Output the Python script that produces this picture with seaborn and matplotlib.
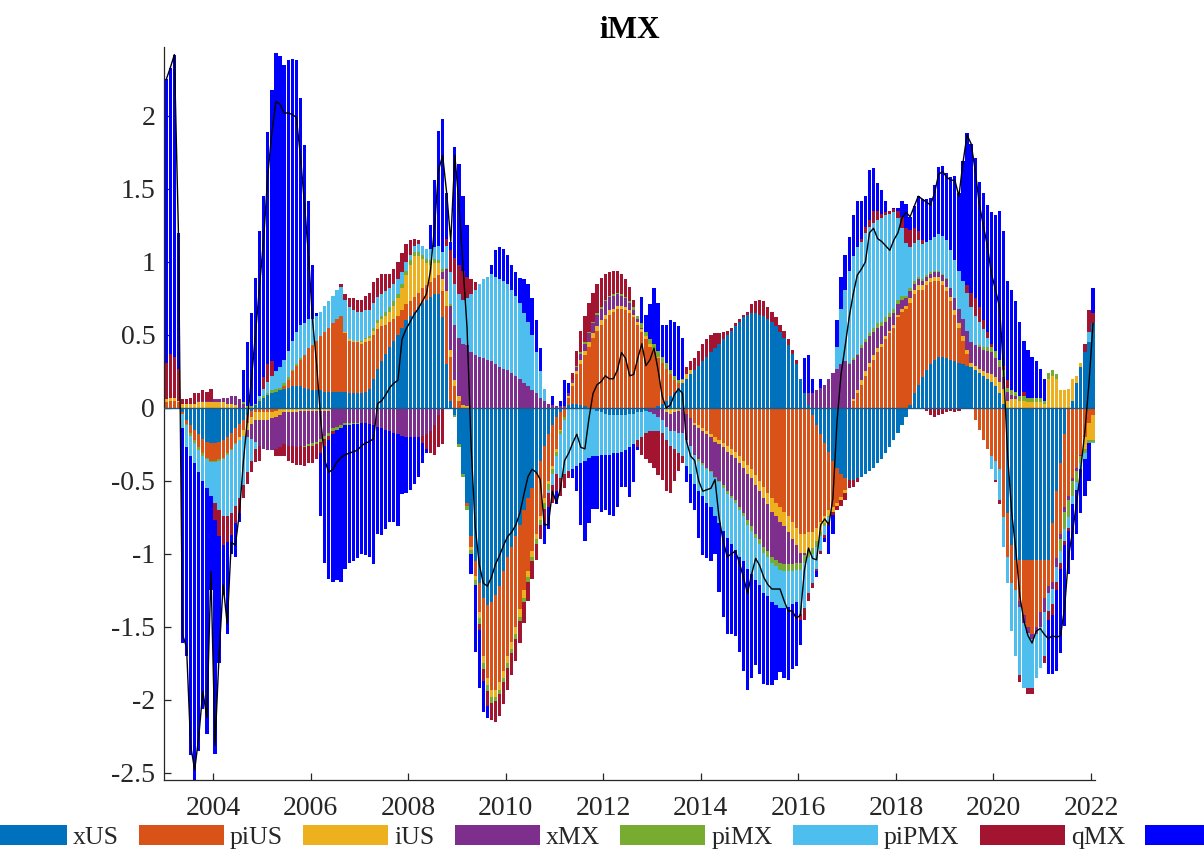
import numpy as np
import matplotlib
matplotlib.use("Agg")
import matplotlib.pyplot as plt
import seaborn as sns

# Monthly contributions to iMX, Jan 2003 - Jan 2022 (one row per year)
xUS = [
    0.00, 0.00, 0.00, 0.00, -0.03, -0.08, -0.12, -0.15, -0.18, -0.21, -0.23, -0.24,
    -0.24, -0.23, -0.22, -0.20, -0.17, -0.14, -0.11, -0.08, -0.05, -0.02, 0.02, 0.05,
    0.07, 0.09, 0.10, 0.11, 0.12, 0.13, 0.14, 0.15, 0.15, 0.15, 0.14, 0.13,
    0.12, 0.12, 0.12, 0.11, 0.11, 0.11, 0.11, 0.11, 0.11, 0.10, 0.10, 0.10,
    0.10, 0.11, 0.13, 0.20, 0.27, 0.32, 0.37, 0.42, 0.46, 0.50, 0.55, 0.60,
    0.63, 0.66, 0.69, 0.72, 0.74, 0.76, 0.78, 0.78, 0.62, 0.30, 0.05, -0.05,
    -0.25, -0.45, -0.65, -0.88, -1.05, -1.20, -1.30, -1.35, -1.33, -1.28, -1.22, -1.12,
    -1.02, -0.95, -0.88, -0.80, -0.70, -0.62, -0.55, -0.45, -0.36, -0.26, -0.18, -0.12,
    -0.06, -0.03, 0.00, 0.02, 0.03, 0.03, 0.02, 0.01, 0.00, 0.00, -0.02, -0.03,
    -0.04, -0.05, -0.05, -0.05, -0.05, -0.05, -0.04, -0.04, -0.03, -0.03, -0.02, -0.01,
    0.00, 0.01, 0.03, 0.05, 0.08, 0.11, 0.14, 0.17, 0.20, 0.23, 0.26, 0.29,
    0.32, 0.35, 0.38, 0.41, 0.44, 0.47, 0.50, 0.53, 0.56, 0.59, 0.62, 0.64,
    0.65, 0.65, 0.64, 0.63, 0.61, 0.59, 0.56, 0.52, 0.48, 0.43, 0.37, 0.30,
    0.20, 0.10, 0.02, -0.05, -0.12, -0.18, -0.24, -0.30, -0.36, -0.41, -0.45, -0.48,
    -0.49, -0.49, -0.48, -0.47, -0.45, -0.43, -0.41, -0.38, -0.35, -0.31, -0.27, -0.22,
    -0.17, -0.12, -0.06, 0.02, 0.10, 0.16, 0.21, 0.26, 0.30, 0.33, 0.35, 0.35,
    0.34, 0.33, 0.32, 0.31, 0.30, 0.29, 0.28, 0.26, 0.24, 0.22, 0.20, 0.18,
    0.15, 0.10, 0.03, -0.72, -0.94, -1.04, -1.04, -1.04, -1.04, -1.04, -1.04, -1.04,
    -1.04, -1.04, -0.79, -0.57, -0.38, -0.18, 0.00, 0.05, 0.17, 0.28, 0.38, 0.45,
    0.58,
]

piUS = [
    0.04, 0.05, 0.05, 0.04, -0.01, -0.03, -0.05, -0.07, -0.09, -0.10, -0.11, -0.12,
    -0.12, -0.12, -0.12, -0.11, -0.11, -0.10, -0.09, -0.07, -0.05, -0.04, -0.03, -0.03,
    -0.03, -0.03, -0.03, -0.02, -0.01, 0.02, 0.05, 0.10, 0.14, 0.18, 0.22, 0.28,
    0.31, 0.34, 0.37, 0.41, 0.44, 0.47, 0.50, 0.52, 0.40, 0.36, 0.35, 0.35,
    0.34, 0.34, 0.33, 0.30, 0.27, 0.24, 0.20, 0.17, 0.15, 0.13, 0.12, 0.11,
    0.10, 0.10, 0.10, 0.10, 0.10, 0.10, 0.11, 0.13, 0.18, 0.40, 0.30, 0.15,
    0.05, 0.00, -0.02, -0.07, -0.10, -0.20, -0.40, -0.50, -0.60, -0.65, -0.66, -0.68,
    -0.68, -0.65, -0.62, -0.58, -0.55, -0.50, -0.43, -0.41, -0.38, -0.36, -0.32, -0.28,
    -0.22, -0.12, -0.06, 0.05, 0.12, 0.20, 0.28, 0.35, 0.42, 0.48, 0.53, 0.57,
    0.61, 0.64, 0.66, 0.68, 0.68, 0.67, 0.65, 0.62, 0.57, 0.52, 0.47, 0.42,
    0.38, 0.33, 0.28, 0.22, 0.15, 0.08, 0.03, 0.00, -0.04, -0.07, -0.10, -0.12,
    -0.14, -0.16, -0.18, -0.20, -0.22, -0.24, -0.26, -0.28, -0.30, -0.33, -0.36, -0.39,
    -0.42, -0.46, -0.50, -0.54, -0.58, -0.62, -0.65, -0.68, -0.71, -0.74, -0.78, -0.82,
    -0.86, -0.86, -0.85, -0.80, -0.70, -0.60, -0.50, -0.40, -0.32, -0.24, -0.16, -0.08,
    0.00, 0.05, 0.10, 0.16, 0.22, 0.28, 0.33, 0.38, 0.42, 0.47, 0.51, 0.55,
    0.62, 0.66, 0.68, 0.70, 0.68, 0.65, 0.60, 0.58, 0.56, 0.54, 0.52, 0.49,
    0.46, 0.40, 0.32, 0.24, 0.16, 0.08, 0.00, -0.08, -0.15, -0.22, -0.28, -0.33,
    -0.36, -0.42, -0.75, -0.30, -0.26, -0.21, -0.28, -0.38, -0.46, -0.51, -0.46, -0.36,
    -0.26, -0.18, -0.40, -0.46, -0.48, -0.50, -0.60, -0.48, -0.41, -0.32, -0.20, -0.10,
    -0.05,
]

iUS = [
    0.02, 0.02, 0.02, 0.01, 0.03, 0.03, 0.03, 0.03, 0.04, 0.04, 0.04, 0.04,
    0.04, 0.04, 0.04, 0.03, 0.03, 0.02, -0.02, -0.04, -0.05, -0.05, -0.05, -0.05,
    -0.05, -0.05, -0.04, -0.04, -0.04, -0.03, -0.03, -0.03, -0.03, -0.02, -0.02, -0.02,
    -0.02, -0.02, -0.02, -0.02, -0.02, -0.01, -0.01, -0.01, 0.01, 0.01, 0.01, 0.01,
    0.01, 0.02, 0.02, 0.03, 0.04, 0.05, 0.06, 0.07, 0.09, 0.12, 0.15, 0.20,
    0.25, 0.28, 0.25, 0.20, 0.15, 0.12, 0.10, 0.08, 0.08, 0.10, 0.05, 0.04,
    0.03, 0.02, 0.01, -0.02, -0.03, -0.04, -0.05, -0.05, -0.05, -0.05, -0.05, -0.05,
    -0.05, -0.05, -0.05, -0.05, -0.05, -0.04, -0.04, -0.04, -0.03, -0.03, -0.02, -0.02,
    -0.02, -0.01, 0.00, 0.01, 0.02, 0.02, 0.03, 0.03, 0.03, 0.03, 0.03, 0.03,
    0.03, 0.03, 0.02, 0.02, 0.02, 0.02, 0.02, 0.02, 0.02, 0.02, 0.02, 0.02,
    0.02, 0.01, 0.00, -0.03, -0.04, -0.03, -0.02, 0.02, 0.03, 0.03, -0.02, -0.02,
    -0.02, -0.02, -0.02, -0.03, -0.03, -0.03, -0.04, -0.04, -0.04, -0.05, -0.05, -0.06,
    -0.06, -0.07, -0.07, -0.08, -0.08, -0.09, -0.09, -0.10, -0.10, -0.11, -0.12, -0.12,
    -0.13, -0.13, -0.12, -0.11, -0.09, -0.07, -0.05, -0.04, -0.03, -0.02, -0.02, -0.02,
    0.00, 0.01, 0.02, 0.03, 0.03, 0.03, 0.03, 0.03, 0.02, 0.02, 0.02, 0.02,
    0.02, 0.02, 0.02, 0.03, 0.03, 0.03, 0.03, 0.03, 0.03, 0.03, 0.03, 0.03,
    0.03, 0.03, 0.03, 0.03, 0.03, 0.03, 0.03, 0.03, 0.03, 0.03, 0.04, 0.05,
    0.06, 0.08, 0.10, 0.05, 0.06, 0.06, 0.05, 0.05, 0.04, 0.04, 0.04, 0.04,
    0.03, 0.20, 0.22, 0.20, 0.12, 0.12, 0.13, 0.15, 0.05, 0.03, -0.08, -0.12,
    -0.17,
]

xMX = [
    0.00, 0.00, 0.00, 0.00, 0.00, 0.00, 0.00, 0.00, 0.01, 0.01, 0.01, 0.01,
    0.02, 0.02, 0.03, 0.04, 0.05, 0.06, 0.06, 0.03, -0.05, -0.10, -0.15, -0.18,
    -0.20, -0.21, -0.22, -0.22, -0.22, -0.22, -0.23, -0.23, -0.24, -0.24, -0.24, -0.23,
    -0.22, -0.21, -0.19, -0.17, -0.15, -0.13, -0.12, -0.11, -0.10, -0.10, -0.10, -0.10,
    -0.10, -0.10, -0.11, -0.12, -0.13, -0.14, -0.15, -0.16, -0.17, -0.18, -0.19, -0.20,
    -0.20, -0.20, -0.20, -0.19, -0.18, -0.16, -0.12, -0.05, 0.05, 0.15, 0.30, 0.38,
    0.40, 0.42, 0.42, 0.38, 0.36, 0.35, 0.34, 0.33, 0.32, 0.30, 0.28, 0.27,
    0.26, 0.24, 0.22, 0.20, 0.17, 0.15, 0.12, 0.10, 0.07, 0.05, 0.03, 0.02,
    0.01, 0.01, 0.01, 0.02, 0.02, 0.03, 0.04, 0.05, 0.06, 0.07, 0.08, 0.08,
    0.09, 0.09, 0.09, 0.08, 0.07, 0.06, 0.05, 0.03, 0.02, 0.01, 0.00, -0.02,
    -0.04, -0.06, -0.08, -0.10, -0.12, -0.13, -0.15, -0.17, -0.18, -0.19, -0.20, -0.21,
    -0.22, -0.23, -0.23, -0.24, -0.25, -0.26, -0.27, -0.28, -0.29, -0.30, -0.31, -0.32,
    -0.33, -0.33, -0.33, -0.33, -0.32, -0.31, -0.30, -0.28, -0.26, -0.22, -0.17, -0.12,
    -0.07, -0.02, 0.08, 0.10, 0.12, 0.14, 0.16, 0.20, 0.24, 0.27, 0.30, 0.32,
    0.30, 0.27, 0.24, 0.22, 0.20, 0.18, 0.16, 0.14, 0.12, 0.10, 0.09, 0.08,
    0.07, 0.06, 0.05, 0.05, 0.04, 0.04, 0.03, 0.03, 0.03, 0.03, 0.03, 0.04,
    0.05, 0.06, 0.08, 0.10, 0.12, 0.13, 0.14, 0.14, 0.15, 0.15, 0.15, 0.15,
    0.13, 0.10, 0.08, 0.06, 0.03, 0.02, -0.04, -0.05, -0.04, -0.03, -0.05, -0.10,
    -0.10, -0.05, -0.05, -0.06, -0.04, -0.03, -0.03, -0.02, -0.02, -0.01, 0.00, 0.00,
    0.00,
]

piMX = [
    0.00, 0.00, 0.00, 0.00, 0.00, -0.01, -0.02, -0.02, -0.02, -0.02, -0.01, -0.01,
    -0.01, -0.01, -0.01, -0.01, -0.01, -0.01, 0.00, 0.01, 0.01, 0.01, 0.01, 0.01,
    0.01, 0.01, 0.02, 0.02, 0.02, 0.02, 0.02, 0.01, 0.01, 0.01, -0.01, -0.01,
    -0.02, -0.02, -0.02, -0.02, -0.02, -0.02, -0.02, -0.02, -0.02, -0.02, -0.01, -0.01,
    0.01, 0.01, 0.01, 0.02, 0.02, 0.02, 0.03, 0.03, 0.03, 0.03, 0.03, 0.03,
    0.03, 0.03, 0.03, 0.03, 0.03, 0.03, 0.03, 0.02, 0.02, 0.01, 0.01, -0.01,
    -0.02, -0.02, -0.03, -0.03, -0.03, -0.04, -0.04, -0.04, -0.04, -0.03, -0.03, -0.03,
    -0.03, -0.03, -0.03, -0.03, -0.03, -0.03, -0.03, -0.03, -0.03, -0.04, -0.04, -0.03,
    -0.03, -0.02, -0.02, -0.01, 0.00, 0.01, 0.01, 0.01, 0.01, 0.01, 0.01, 0.01,
    0.01, 0.01, 0.01, 0.01, 0.01, 0.01, 0.01, 0.02, 0.02, 0.03, 0.03, 0.03,
    0.04, 0.04, 0.04, 0.04, 0.03, 0.03, 0.02, 0.01, 0.00, 0.00, 0.00, -0.01,
    -0.01, -0.01, -0.01, -0.01, -0.01, -0.02, -0.02, -0.02, -0.02, -0.02, -0.02, -0.03,
    -0.03, -0.03, -0.03, -0.04, -0.04, -0.04, -0.04, -0.05, -0.05, -0.05, -0.05, -0.05,
    -0.05, -0.05, -0.05, -0.04, -0.04, -0.03, -0.02, -0.01, 0.00, 0.00, 0.00, 0.00,
    0.01, 0.01, 0.01, 0.02, 0.02, 0.02, 0.03, 0.03, 0.03, 0.03, 0.03, 0.03,
    0.03, 0.03, 0.02, 0.02, 0.02, 0.02, 0.01, 0.01, 0.01, 0.01, 0.01, 0.01,
    0.01, 0.00, -0.01, -0.01, -0.01, -0.01, 0.00, 0.00, 0.01, 0.02, 0.03, 0.04,
    0.05, 0.05, 0.05, 0.03, 0.03, 0.03, 0.03, 0.03, 0.03, 0.03, 0.03, 0.03,
    0.02, 0.04, 0.04, 0.03, -0.08, -0.12, -0.12, -0.10, -0.08, -0.05, -0.03, -0.02,
    -0.01,
]

piPMX = [
    0.00, 0.00, 0.00, 0.00, -0.10, -0.15, -0.14, -0.14, -0.15, -0.17, -0.20, -0.23,
    -0.28, -0.34, -0.39, -0.42, -0.43, -0.42, -0.40, -0.34, -0.24, -0.15, -0.05, 0.02,
    0.05, 0.08, 0.10, 0.12, 0.14, 0.16, 0.18, 0.20, 0.22, 0.23, 0.22, 0.20,
    0.18, 0.17, 0.17, 0.18, 0.18, 0.19, 0.20, 0.20, 0.22, 0.22, 0.21, 0.20,
    0.20, 0.19, 0.18, 0.17, 0.16, 0.15, 0.14, 0.13, 0.12, 0.10, 0.08, 0.06,
    0.04, 0.04, 0.05, 0.06, 0.07, 0.08, 0.08, 0.10, 0.12, 0.15, 0.22, 0.28,
    0.30, 0.30, 0.32, 0.40, 0.45, 0.50, 0.54, 0.57, 0.60, 0.60, 0.60, 0.60,
    0.59, 0.57, 0.55, 0.52, 0.48, 0.44, 0.38, 0.28, 0.18, 0.08, -0.02, -0.08,
    -0.12, -0.30, -0.37, -0.42, -0.42, -0.40, -0.38, -0.36, -0.34, -0.33, -0.31, -0.29,
    -0.28, -0.27, -0.26, -0.26, -0.25, -0.24, -0.23, -0.21, -0.19, -0.17, -0.15, -0.13,
    -0.12, -0.10, -0.09, -0.09, -0.10, -0.12, -0.14, -0.16, -0.18, -0.19, -0.20, -0.21,
    -0.21, -0.23, -0.24, -0.26, -0.28, -0.29, -0.30, -0.31, -0.32, -0.32, -0.31, -0.30,
    -0.30, -0.29, -0.28, -0.28, -0.27, -0.27, -0.27, -0.26, -0.25, -0.24, -0.22, -0.22,
    -0.30, -0.31, -0.25, -0.20, -0.15, -0.10, -0.06, -0.03, 0.00, 0.15, 0.38, 0.49,
    0.63, 0.70, 0.73, 0.71, 0.73, 0.73, 0.72, 0.71, 0.71, 0.70, 0.68, 0.66,
    0.56, 0.46, 0.36, 0.28, 0.26, 0.25, 0.24, 0.23, 0.22, 0.23, 0.25, 0.26,
    0.26, 0.26, 0.26, 0.26, 0.26, 0.26, 0.24, 0.20, 0.16, 0.12, 0.06, -0.09,
    -0.13, -0.21, -0.20, -0.18, -0.33, -0.45, -0.47, -0.45, -0.38, -0.34, -0.30, -0.28,
    -0.30, -0.12, -0.10, -0.10, -0.08, -0.08, -0.07, -0.06, -0.05, -0.04, -0.04, 0.07,
    -0.01,
]

qMX = [
    0.25, 0.30, 0.28, 0.22, 0.03, 0.03, 0.04, 0.07, 0.05, 0.07, 0.06, 0.08,
    -0.12, -0.18, -0.20, -0.18, -0.15, -0.12, -0.10, -0.09, -0.08, -0.08, -0.09, -0.10,
    0.08, 0.12, 0.10, -0.05, -0.06, -0.08, -0.10, -0.12, -0.12, -0.13, -0.13, -0.12,
    -0.12, -0.10, -0.08, -0.05, -0.03, -0.02, 0.00, 0.02, 0.04, 0.06, 0.08, 0.08,
    0.08, 0.10, 0.12, 0.14, 0.13, 0.14, 0.12, 0.10, 0.10, 0.12, 0.13, 0.12,
    0.10, 0.05, 0.03, -0.05, -0.10, -0.15, -0.20, -0.22, -0.25, 0.05, 0.15, 0.18,
    0.20, 0.20, 0.15, 0.10, 0.05, -0.04, -0.08, -0.10, -0.12, -0.14, -0.15, -0.15,
    -0.15, -0.15, -0.15, -0.15, -0.14, -0.13, -0.12, -0.11, -0.10, -0.10, -0.10, -0.12,
    -0.12, -0.12, -0.10, -0.05, 0.05, 0.10, 0.15, 0.18, 0.20, 0.20, 0.20, 0.20,
    0.18, 0.16, 0.16, 0.15, 0.14, 0.12, 0.10, 0.05, -0.05, -0.12, -0.18, -0.22,
    -0.25, -0.30, -0.32, -0.35, -0.32, -0.22, -0.12, -0.05, 0.05, 0.06, 0.08, 0.10,
    0.12, 0.12, 0.12, 0.10, 0.07, 0.05, 0.03, 0.02, 0.02, 0.02, 0.02, 0.02,
    0.06, 0.08, 0.10, 0.10, 0.08, 0.07, 0.06, 0.05, 0.05, 0.04, 0.03, 0.03,
    -0.04, -0.08, -0.05, -0.03, -0.02, -0.02, -0.02, -0.02, -0.02, -0.03, -0.04, -0.05,
    -0.06, -0.05, -0.03, 0.02, 0.04, 0.05, 0.08, 0.06, 0.03, 0.02, 0.02, 0.02,
    0.05, 0.08, 0.10, 0.12, 0.10, 0.06, 0.03, -0.02, -0.05, -0.06, -0.05, -0.04,
    -0.03, -0.02, -0.02, -0.01, 0.00, 0.05, 0.10, 0.12, 0.10, 0.06, 0.04, 0.02,
    -0.02, -0.03, 0.03, 0.05, 0.00, 0.00, -0.05, 0.03, -0.04, -0.04, 0.00, 0.00,
    -0.05, -0.06, -0.08, -0.06, -0.04, -0.03, -0.02, 0.00, 0.00, 0.00, 0.06, 0.15,
    0.07,
]

iMX = [
    1.94, 1.96, 2.07, 0.93, -1.47, -1.43, -2.05, -2.20, -1.91, -1.56, -1.68, -0.65,
    -1.60, -0.87, -0.34, -0.63, -0.13, -0.23, -0.06, 0.22, 0.44, 0.64, 0.86, 1.13,
    1.24, 1.59, 1.86, 2.18, 2.13, 2.02, 1.99, 1.93, 1.86, 1.55, 1.22, 0.81,
    0.37, 0.02, -0.43, -0.80, -0.95, -1.01, -1.03, -1.05, -0.98, -0.94, -0.94, -0.92,
    -0.90, -0.91, -0.91, -0.95, -0.73, -0.73, -0.68, -0.62, -0.61, -0.63, -0.40, -0.38,
    -0.36, -0.32, -0.27, -0.14, -0.03, 0.16, 0.46, 0.79, 0.91, 0.31, 0.06, 0.76,
    0.69, 0.51, 0.35, -0.14, -0.46, -0.40, -0.21, -0.08, 0.06, 0.18, 0.22, 0.22,
    0.20, 0.17, 0.16, 0.17, 0.23, 0.26, 0.25, 0.22, 0.16, -0.14, -0.15, 0.06,
    -0.09, 0.04, 0.18, 0.07, -0.06, -0.17, -0.42, -0.55, -0.45, -0.36, -0.36, -0.39,
    -0.38, -0.41, -0.43, -0.37, -0.24, -0.25, -0.34, -0.26, -0.02, 0.18, 0.12, 0.24,
    0.38, 0.33, 0.22, 0.26, 0.34, 0.37, 0.37, 0.28, -0.11, -0.20, -0.18, -0.32,
    -0.41, -0.38, -0.37, -0.26, -0.47, -0.59, -0.66, -0.62, -0.59, -0.65, -0.75, -0.83,
    -0.71, -0.58, -0.61, -0.62, -0.61, -0.57, -0.51, -0.44, -0.48, -0.50, -0.45, -0.44,
    -0.17, 0.24, 0.26, 0.10, -0.04, 0.06, -0.03, -0.20, -0.13, 0.18, 0.22, 0.24,
    0.23, 0.28, 0.32, 0.26, 0.21, 0.34, 0.29, 0.19, 0.16, 0.08, 0.00, 0.01,
    0.02, 0.11, 0.17, 0.09, 0.15, 0.24, 0.28, 0.29, 0.29, 0.36, 0.46, 0.48,
    0.46, 0.50, 0.58, 0.53, 0.82, 1.04, 1.02, 0.96, 0.86, 0.87, 0.87, 0.90,
    0.93, 1.02, 0.92, 0.68, 0.69, 0.62, 0.51, 0.35, 0.33, 0.28, 0.25, 0.20,
    0.15, -0.37, -0.40, -0.55, -0.58, -0.55, -0.30, -0.38, -0.30, -0.30, -0.25, -0.26,
    0.17,
]

shock_names = ["xUS", "piUS", "iUS", "xMX", "piMX", "piPMX", "qMX", "iMX"]
shock_values = [xUS, piUS, iUS, xMX, piMX, piPMX, qMX, iMX]
shock_colors = ["#0072BD", "#D95319", "#EDB120", "#7E2F8E",
                "#77AC30", "#4DBEEE", "#A2142F", "#0000FF"]
# the last legend entry runs past the right edge of the figure, so its text is left empty
legend_labels = ["xUS", "piUS", "iUS", "xMX", "piMX", "piPMX", "qMX", ""]

year_ticks = [2004, 2006, 2008, 2010, 2012, 2014, 2016, 2018, 2020, 2022]
value_ticks = [-2.5, -2, -1.5, -1, -0.5, 0, 0.5, 1, 1.5, 2]

n_months = len(xUS)
dates = 2003 + (np.arange(n_months) + 0.5) / 12.0
contrib = np.array(shock_values, dtype=float)
total = contrib.sum(axis=0)

sns.set_theme(style="white")
plt.rcParams["font.family"] = ["Liberation Serif", "DejaVu Serif"]
ink = "#262626"

W, H = 1204, 851
fig = plt.figure(figsize=(W / 100, H / 100), dpi=100)
ax = fig.add_axes([164.2 / W, 1 - 780.3 / H, 931.2 / W, 733.0 / H])

# stacked bars: positive parts pile upward, negative parts downward
bar_w = 0.8 / 12
pos_base = np.zeros(n_months)
neg_base = np.zeros(n_months)
handles = []
for name, vals, col in zip(shock_names, contrib, shock_colors):
    pos = np.where(vals > 0, vals, 0.0)
    neg = np.where(vals < 0, vals, 0.0)
    h = ax.bar(dates, pos, width=bar_w, bottom=pos_base, color=col,
               linewidth=0, label=name, zorder=2)
    ax.bar(dates, neg, width=bar_w, bottom=neg_base, color=col,
           linewidth=0, zorder=2)
    pos_base += pos
    neg_base += neg
    handles.append(h)

ax.axhline(0, color="#22577f", linewidth=1.0, zorder=3)
sns.lineplot(x=dates, y=total, color="black", linewidth=1.0, ax=ax,
             legend=False, zorder=4)

ax.set_xlim(2003.0, 2022.09)
ax.set_ylim(-2.55, 2.47)
ax.set_xticks(year_ticks)
ax.set_xticklabels([str(y) for y in year_ticks])
ax.set_yticks(value_ticks)
ax.set_yticklabels(["%g" % v for v in value_ticks])

for side in ["top", "right"]:
    ax.spines[side].set_visible(False)
for side in ["left", "bottom"]:
    ax.spines[side].set_color(ink)
    ax.spines[side].set_linewidth(0.9)

ax.tick_params(axis="both", direction="in", length=5, width=0.9, color=ink,
               labelsize=20, labelcolor=ink, left=True, bottom=True)
ax.tick_params(axis="x", pad=11.5)
ax.tick_params(axis="y", pad=6.5)
ax.grid(False)

fig.text(630 / W, 1 - 38 / H, "iMX", ha="center", va="baseline",
         fontsize=22.5, fontweight="bold", color="black")

fig.legend(handles, legend_labels, loc="center",
           bbox_to_anchor=(609 / W, 1 - 837 / H), ncol=8, frameon=False,
           fontsize=18.5, handlelength=3.3, handleheight=0.78,
           handletextpad=0.23, columnspacing=0.8, borderpad=0,
           borderaxespad=0)

fig.savefig("out.png", dpi=100)
